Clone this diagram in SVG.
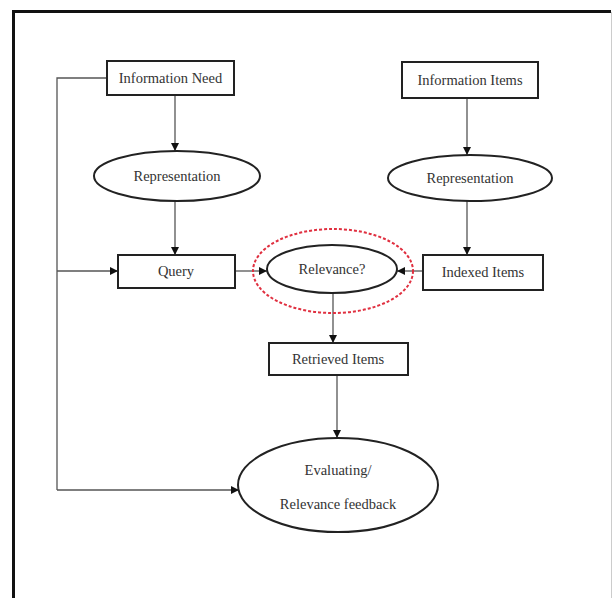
<svg xmlns="http://www.w3.org/2000/svg" width="613" height="598" viewBox="0 0 613 598">
<defs>
<marker id="ah" viewBox="0 0 10 10" refX="10" refY="5" markerWidth="8" markerHeight="8" markerUnits="userSpaceOnUse" orient="auto">
<path d="M0,0 L10,5 L0,10 z" fill="#111"/>
</marker>
</defs>
<style>
.box{fill:#fff;stroke:#222;stroke-width:2}
.ell{fill:#fff;stroke:#222;stroke-width:2}
.lbl{font-family:"Liberation Serif","Times New Roman",serif;font-size:14.5px;fill:#333;text-anchor:middle;dominant-baseline:central}
.con{fill:none;stroke:#555;stroke-width:1.3}
.arr{marker-end:url(#ah)}
</style>
<rect x="0" y="0" width="613" height="598" fill="#fff"/>
<path d="M13.5,600 L13.5,11.5 L611,11.5" fill="none" stroke="#111" stroke-width="3"/>
<line x1="611.5" y1="12" x2="611.5" y2="598" stroke="#ccc" stroke-width="1"/>
<g id="connectors">
<path class="con" d="M107,78 L57,78 L57,490"/>
<path class="con arr" d="M57,271 L118,271"/>
<path class="con arr" d="M57,490 L239,490"/>
<path class="con arr" d="M175,95 L175,151"/>
<path class="con arr" d="M175,200 L175,255"/>
<path class="con arr" d="M467,98 L467,155"/>
<path class="con arr" d="M467,201 L467,255"/>
<path class="con arr" d="M235,271 L267,271"/>
<path class="con arr" d="M423,271 L397,271"/>
<path class="con arr" d="M333,294 L333,343"/>
<path class="con arr" d="M337,375 L337,438"/>
</g>
<g id="information-need"><rect class="box" x="107" y="61" width="127" height="34"/><text class="lbl" x="170.5" y="78">Information Need</text></g>
<g id="information-items"><rect class="box" x="402" y="62" width="136" height="36"/><text class="lbl" x="470" y="80">Information Items</text></g>
<g id="representation-1"><ellipse class="ell" cx="177" cy="176" rx="83" ry="25"/><text class="lbl" x="177" y="176">Representation</text></g>
<g id="representation-2"><ellipse class="ell" cx="470" cy="178" rx="82" ry="23"/><text class="lbl" x="470" y="178">Representation</text></g>
<g id="query"><rect class="box" x="118" y="255" width="117" height="33"/><text class="lbl" x="176" y="271">Query</text></g>
<g id="relevance"><ellipse fill="none" stroke="#e03040" stroke-width="2" stroke-dasharray="3,2" cx="333" cy="271" rx="80" ry="42"/><ellipse class="ell" cx="332" cy="269" rx="65" ry="24"/><text class="lbl" x="332" y="269">Relevance?</text></g>
<g id="indexed-items"><rect class="box" x="423" y="255" width="120" height="35"/><text class="lbl" x="483" y="272">Indexed Items</text></g>
<g id="retrieved-items"><rect class="box" x="269" y="343" width="139" height="32"/><text class="lbl" x="338" y="359">Retrieved Items</text></g>
<g id="evaluating"><ellipse class="ell" cx="338" cy="485" rx="100" ry="47"/><text class="lbl" x="338" y="470">Evaluating/</text><text class="lbl" x="338" y="504">Relevance feedback</text></g>
</svg>
